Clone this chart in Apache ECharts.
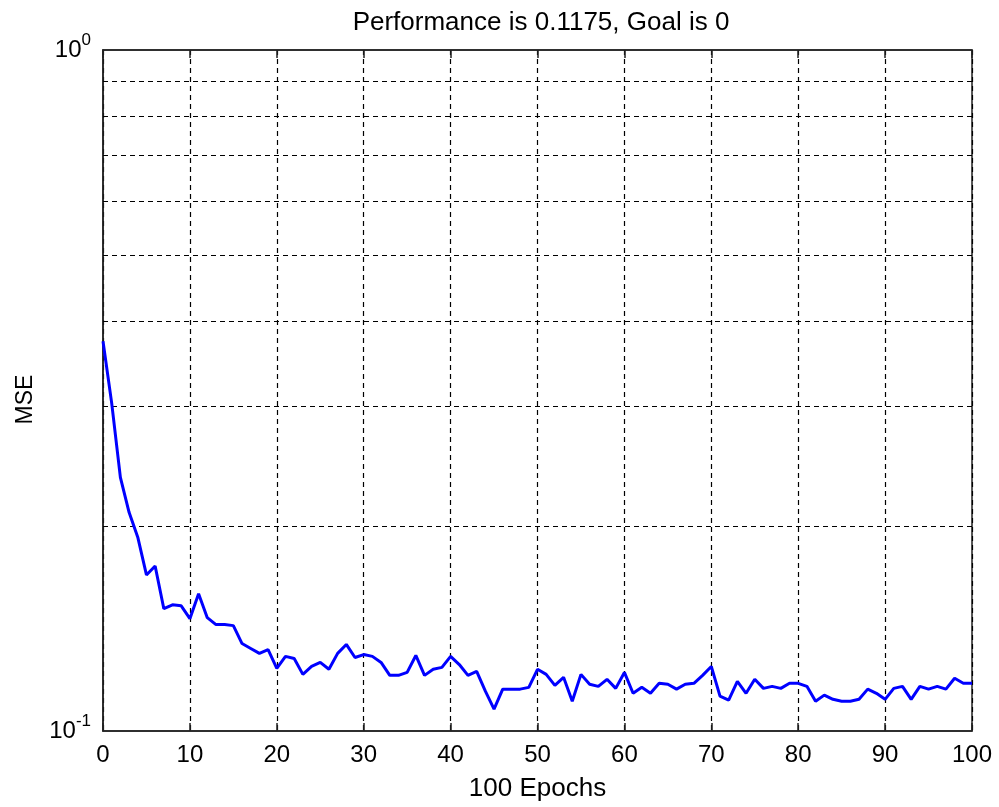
<!DOCTYPE html>
<html><head><meta charset="utf-8">
<script src="https://cdn.jsdelivr.net/npm/echarts@6/dist/echarts.min.js"></script>
<style>html,body{margin:0;padding:0;background:#fff}#c{width:999px;height:807px}</style>
</head><body><div id="c"></div>
<script>
const titleText = 'Performance is 0.1175, Goal is 0';
const xAxisName = '100 Epochs';
const yAxisName = 'MSE';
const epochs = [0,1,2,3,4,5,6,7,8,9,10,11,12,13,14,15,16,17,18,19,20,21,22,23,24,25,26,27,28,29,30,31,32,33,34,35,36,37,38,39,40,41,42,43,44,45,46,47,48,49,50,51,52,53,54,55,56,57,58,59,60,61,62,63,64,65,66,67,68,69,70,71,72,73,74,75,76,77,78,79,80,81,82,83,84,85,86,87,88,89,90,91,92,93,94,95,96,97,98,99,100];
const mse = [0.3735,0.303,0.2357,0.2095,0.1926,0.1695,0.1747,0.1512,0.1532,0.1527,
  0.1462,0.159,0.1467,0.1433,0.1433,0.1428,0.1344,0.1322,0.130,0.1317,
  0.1236,0.1287,0.1278,0.1211,0.1244,0.1261,0.1232,0.130,0.134,0.1282,
  0.1295,0.1287,0.1261,0.1207,0.1207,0.1219,0.1291,0.1207,0.1232,0.124,
  0.1287,0.1252,0.1207,0.1223,0.1144,0.1077,0.1152,0.1152,0.1152,0.1159,
  0.1232,0.1211,0.1167,0.1199,0.1106,0.1211,0.1171,0.1163,0.1191,0.1155,
  0.1219,0.1136,0.1159,0.1136,0.1175,0.1171,0.1152,0.1171,0.1175,0.1207,
  0.1244,0.1125,0.111,0.1183,0.1136,0.1191,0.1155,0.1163,0.1155,0.1175,
  0.1175,0.1163,0.1106,0.1129,0.1113,0.1106,0.1106,0.1113,0.1152,0.1136,
  0.1113,0.1155,0.1163,0.1113,0.1163,0.1152,0.1163,0.1152,0.1195,0.1175,0.1175];
const xMin = 0, xMax = 100, xInterval = 10;
const yMin = 0.1, yMax = 1;
const yGridValues = [0.2,0.3,0.4,0.5,0.6,0.7,0.8,0.9];

const FONT = '"Liberation Sans", Arial, sans-serif';
const chart = echarts.init(document.getElementById('c'), null, {renderer:'canvas'});
const dash = [5,4];
chart.setOption({
  animation:false,
  backgroundColor:'#fff',
  title:{text:titleText,left:536,top:5,textAlign:'center',
    textStyle:{fontFamily:FONT,fontSize:26,fontWeight:'normal',color:'#000'}},
  grid:{left:103,right:27,top:50,bottom:72,show:true,borderColor:'#222',borderWidth:1.5,backgroundColor:'transparent'},
  xAxis:[{type:'value',min:xMin,max:xMax,interval:xInterval,position:'bottom',
    name:xAxisName,nameLocation:'middle',nameGap:45,
    nameTextStyle:{fontFamily:FONT,fontSize:26,color:'#000'},
    axisLine:{show:true,lineStyle:{color:'#222',width:1.5}},
    axisTick:{show:true,inside:true,length:8,lineStyle:{color:'#222',width:1.5}},
    axisLabel:{fontFamily:FONT,fontSize:24,color:'#000',margin:12},
    splitLine:{show:true,lineStyle:{color:'#000',width:1.2,type:dash}}},
   {type:'value',min:xMin,max:xMax,interval:xInterval,position:'top',
    axisLine:{show:true,lineStyle:{color:'#222',width:1.5}},
    axisTick:{show:true,inside:true,length:8,lineStyle:{color:'#222',width:1.5}},
    axisLabel:{show:false},splitLine:{show:false}}],
  yAxis:{type:'log',logBase:10,min:yMin,max:yMax,
    name:yAxisName,nameLocation:'middle',nameGap:66,nameRotate:90,
    nameTextStyle:{fontFamily:FONT,fontSize:23,color:'#000',padding:[0,0,0,-18]},
    axisLine:{show:true,lineStyle:{color:'#222',width:1.5}},
    axisTick:{show:false},
    splitLine:{show:false},
    axisLabel:{margin:12,
      formatter:function(v){const e=Math.round(Math.log10(v));return '{b|10}{s|'+e+'}';},
      rich:{b:{fontFamily:FONT,fontSize:24,lineHeight:24,padding:[6,0,6,0],color:'#000'},
            s:{fontFamily:FONT,fontSize:17,lineHeight:17,padding:[0,0,19,0],color:'#000'}}}},
  series:[{type:'line',data:[],silent:true,z:1,
      markLine:{silent:true,symbol:['none','none'],label:{show:false},
        lineStyle:{color:'#000',width:1.2,type:dash},
        data:yGridValues.map(v=>({yAxis:v}))}},
    {type:'line',z:5,data:epochs.map((e,i)=>[e,mse[i]]),showSymbol:false,symbol:'none',
      lineStyle:{color:'#0000ff',width:3},itemStyle:{color:'#0000ff'}}]
});
</script></body></html>
